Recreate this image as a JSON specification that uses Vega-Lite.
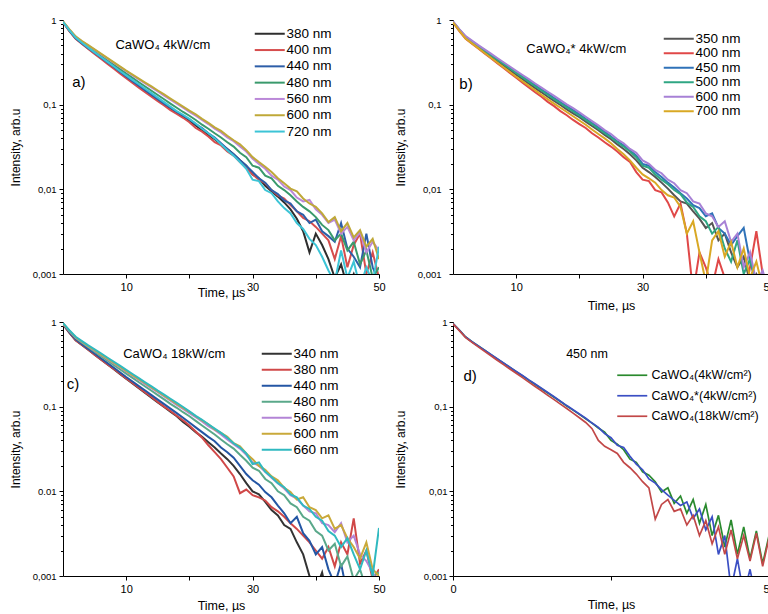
{
"$schema":"https://vega.github.io/schema/vega-lite/v6.json",
"background":"white",
"padding":{"left":9,"top":15,"right":0,"bottom":0},
"columns":2,
"spacing":{"row":48,"column":74},
"bounds":"flush",
"resolve":{"scale":{"color":"independent","strokeWidth":"independent"},"legend":{"color":"independent"}},
"config":{"font":"Liberation Sans","view":{"stroke":null},"axis":{"grid":false,"domainColor":"#000","tickColor":"#000","labelColor":"#000","titleColor":"#000","titleFontWeight":"normal","labelOverlap":false}},
"datasets":{
"A":[
{"t":0,"380":0.95,"400":0.94,"440":0.95,"480":0.95,"560":0.95,"600":0.96,"720":0.95},
{"t":1,"380":0.75,"400":0.74,"440":0.75,"480":0.76,"560":0.77,"600":0.78,"720":0.76},
{"t":2,"380":0.61,"400":0.60,"440":0.61,"480":0.62,"560":0.635,"600":0.64,"720":0.62},
{"t":3,"380":0.53,"400":0.52,"440":0.53,"480":0.545,"560":0.56,"600":0.565,"720":0.54},
{"t":4,"380":0.462,"400":0.455,"440":0.465,"480":0.482,"560":0.50,"600":0.505,"720":0.472},
{"t":5,"380":0.405,"400":0.398,"440":0.41,"480":0.427,"560":0.445,"600":0.45,"720":0.415},
{"t":6,"380":0.356,"400":0.348,"440":0.36,"480":0.378,"560":0.395,"600":0.40,"720":0.365},
{"t":7,"380":0.313,"400":0.305,"440":0.318,"480":0.335,"560":0.352,"600":0.357,"720":0.322},
{"t":8,"380":0.275,"400":0.267,"440":0.28,"480":0.297,"560":0.313,"600":0.318,"720":0.284},
{"t":9,"380":0.242,"400":0.234,"440":0.245,"480":0.263,"560":0.279,"600":0.283,"720":0.25},
{"t":10,"380":0.212,"400":0.205,"440":0.215,"480":0.233,"560":0.248,"600":0.252,"720":0.222},
{"t":11,"380":0.188,"400":0.181,"440":0.19,"480":0.207,"560":0.222,"600":0.226,"720":0.196},
{"t":12,"380":0.166,"400":0.159,"440":0.168,"480":0.184,"560":0.199,"600":0.203,"720":0.174},
{"t":13,"380":0.147,"400":0.140,"440":0.148,"480":0.164,"560":0.178,"600":0.182,"720":0.154},
{"t":14,"380":0.130,"400":0.124,"440":0.131,"480":0.146,"560":0.160,"600":0.164,"720":0.137},
{"t":15,"380":0.115,"400":0.110,"440":0.116,"480":0.130,"560":0.143,"600":0.147,"720":0.121},
{"t":16,"380":0.102,"400":0.098,"440":0.103,"480":0.116,"560":0.128,"600":0.132,"720":0.107},
{"t":17,"380":0.091,"400":0.086,"440":0.092,"480":0.103,"560":0.115,"600":0.118,"720":0.095},
{"t":18,"380":0.081,"400":0.078,"440":0.082,"480":0.092,"560":0.103,"600":0.106,"720":0.084},
{"t":19,"380":0.073,"400":0.070,"440":0.074,"480":0.082,"560":0.092,"600":0.095,"720":0.076},
{"t":20,"380":0.065,"400":0.062,"440":0.067,"480":0.074,"560":0.082,"600":0.085,"720":0.068},
{"t":21,"380":0.057,"400":0.053,"440":0.059,"480":0.066,"560":0.074,"600":0.077,"720":0.060},
{"t":22,"380":0.050,"400":0.048,"440":0.053,"480":0.058,"560":0.066,"600":0.068,"720":0.052},
{"t":23,"380":0.044,"400":0.042,"440":0.046,"480":0.052,"560":0.059,"600":0.061,"720":0.046},
{"t":24,"380":0.039,"400":0.036,"440":0.041,"480":0.046,"560":0.052,"600":0.054,"720":0.040},
{"t":25,"380":0.034,"400":0.033,"440":0.035,"480":0.041,"560":0.047,"600":0.049,"720":0.034},
{"t":26,"380":0.030,"400":0.028,"440":0.030,"480":0.036,"560":0.041,"600":0.043,"720":0.029},
{"t":27,"380":0.026,"400":0.025,"440":0.026,"480":0.032,"560":0.037,"600":0.038,"720":0.025},
{"t":28,"380":0.022,"400":0.021,"440":0.022,"480":0.027,"560":0.032,"600":0.034,"720":0.021},
{"t":29,"380":0.019,"400":0.018,"440":0.019,"480":0.024,"560":0.028,"600":0.029,"720":0.0175},
{"t":30,"380":0.015,"400":0.015,"440":0.016,"480":0.019,"560":0.023,"600":0.024,"720":0.013},
{"t":31,"380":0.0135,"400":0.013,"440":0.0135,"480":0.018,"560":0.020,"600":0.021,"720":0.0125},
{"t":32,"380":0.011,"400":0.0118,"440":0.012,"480":0.0145,"560":0.0175,"600":0.0185,"720":0.0098},
{"t":33,"380":0.0095,"400":0.0098,"440":0.0098,"480":0.0135,"560":0.0145,"600":0.016,"720":0.009},
{"t":34,"380":0.0082,"400":0.0085,"440":0.0088,"480":0.011,"560":0.013,"600":0.0135,"720":0.0072},
{"t":35,"380":0.007,"400":0.0078,"440":0.0074,"480":0.0098,"560":0.0108,"600":0.0118,"720":0.006},
{"t":36,"380":0.0058,"400":0.0065,"440":0.0068,"480":0.0085,"560":0.0098,"600":0.0102,"720":0.0052},
{"t":37,"380":0.0045,"400":0.0055,"440":0.0055,"480":0.0072,"560":0.008,"600":0.0095,"720":0.004},
{"t":38,"380":0.0032,"400":0.0046,"440":0.005,"480":0.0062,"560":0.0072,"600":0.0078,"720":0.0034},
{"t":39,"380":0.0018,"400":0.0042,"440":0.004,"480":0.0055,"560":0.0075,"600":0.0068,"720":0.0026},
{"t":40,"380":0.003,"400":0.0036,"440":0.0044,"480":0.0047,"560":0.0058,"600":0.0062,"720":0.0022},
{"t":41,"380":0.0022,"400":0.003,"440":0.0032,"480":0.0038,"560":0.005,"600":0.0052,"720":0.0016},
{"t":42,"380":0.0015,"400":0.0025,"440":0.0028,"480":0.0033,"560":0.004,"600":0.0041,"720":0.0011},
{"t":43,"380":0.0009,"400":0.0015,"440":0.0024,"480":0.0025,"560":0.0044,"600":0.0047,"720":0.0008},
{"t":44,"380":0.0013,"400":0.0028,"440":0.004,"480":0.003,"560":0.003,"600":0.0032,"720":0.0019},
{"t":45,"380":0.0007,"400":0.0012,"440":0.002,"480":0.0019,"560":0.0036,"600":0.004,"720":0.0009},
{"t":46,"380":0.001,"400":0.0022,"440":0.0016,"480":0.0024,"560":0.0025,"600":0.0027,"720":0.0014},
{"t":47,"380":0.0006,"400":0.003,"440":0.0012,"480":0.0013,"560":0.0031,"600":0.0033,"720":0.0007},
{"t":48,"380":0.0008,"400":0.001,"440":0.003,"480":0.0019,"560":0.0018,"600":0.0021,"720":0.0012},
{"t":49,"380":0.0005,"400":0.0018,"440":0.0012,"480":0.0009,"560":0.0024,"600":0.0026,"720":0.0008},
{"t":50,"380":0.0006,"400":0.0009,"440":0.0008,"480":0.0012,"560":0.0019,"600":0.0015,"720":0.0021}
],
"B":[
{"t":0,"350":0.95,"400":0.94,"450":0.95,"500":0.95,"600":0.96,"700":0.94},
{"t":1,"350":0.76,"400":0.74,"450":0.77,"500":0.77,"600":0.78,"700":0.75},
{"t":2,"350":0.62,"400":0.60,"450":0.635,"500":0.63,"600":0.645,"700":0.605},
{"t":3,"350":0.545,"400":0.525,"450":0.56,"500":0.555,"600":0.57,"700":0.53},
{"t":4,"350":0.48,"400":0.46,"450":0.495,"500":0.49,"600":0.505,"700":0.465},
{"t":5,"350":0.423,"400":0.403,"450":0.44,"500":0.435,"600":0.45,"700":0.408},
{"t":6,"350":0.373,"400":0.353,"450":0.39,"500":0.385,"600":0.40,"700":0.358},
{"t":7,"350":0.329,"400":0.309,"450":0.346,"500":0.341,"600":0.356,"700":0.315},
{"t":8,"350":0.29,"400":0.271,"450":0.307,"500":0.302,"600":0.317,"700":0.277},
{"t":9,"350":0.256,"400":0.237,"450":0.272,"500":0.267,"600":0.282,"700":0.243},
{"t":10,"350":0.226,"400":0.208,"450":0.242,"500":0.237,"600":0.251,"700":0.214},
{"t":11,"350":0.2,"400":0.182,"450":0.215,"500":0.21,"600":0.224,"700":0.189},
{"t":12,"350":0.177,"400":0.16,"450":0.191,"500":0.186,"600":0.2,"700":0.167},
{"t":13,"350":0.157,"400":0.14,"450":0.17,"500":0.165,"600":0.178,"700":0.148},
{"t":14,"350":0.14,"400":0.124,"450":0.151,"500":0.147,"600":0.159,"700":0.131},
{"t":15,"350":0.124,"400":0.108,"450":0.135,"500":0.131,"600":0.142,"700":0.116},
{"t":16,"350":0.111,"400":0.096,"450":0.12,"500":0.116,"600":0.127,"700":0.103},
{"t":17,"350":0.099,"400":0.084,"450":0.107,"500":0.104,"600":0.113,"700":0.092},
{"t":18,"350":0.088,"400":0.075,"450":0.096,"500":0.093,"600":0.101,"700":0.082},
{"t":19,"350":0.079,"400":0.066,"450":0.086,"500":0.083,"600":0.091,"700":0.073},
{"t":20,"350":0.071,"400":0.059,"450":0.077,"500":0.074,"600":0.081,"700":0.065},
{"t":21,"350":0.063,"400":0.053,"450":0.068,"500":0.066,"600":0.072,"700":0.058},
{"t":22,"350":0.056,"400":0.046,"450":0.061,"500":0.059,"600":0.064,"700":0.051},
{"t":23,"350":0.05,"400":0.041,"450":0.054,"500":0.052,"600":0.057,"700":0.045},
{"t":24,"350":0.044,"400":0.036,"450":0.048,"500":0.046,"600":0.05,"700":0.04},
{"t":25,"350":0.039,"400":0.032,"450":0.042,"500":0.041,"600":0.045,"700":0.035},
{"t":26,"350":0.034,"400":0.028,"450":0.037,"500":0.036,"600":0.039,"700":0.03},
{"t":27,"350":0.03,"400":0.024,"450":0.033,"500":0.032,"600":0.035,"700":0.026},
{"t":28,"350":0.026,"400":0.021,"450":0.029,"500":0.028,"600":0.03,"700":0.022},
{"t":29,"350":0.022,"400":0.016,"450":0.025,"500":0.024,"600":0.027,"700":0.018},
{"t":30,"350":0.018,"400":0.013,"450":0.02,"500":0.019,"600":0.022,"700":0.015},
{"t":31,"350":0.016,"400":0.0125,"450":0.019,"500":0.018,"600":0.02,"700":0.0135},
{"t":32,"350":0.014,"400":0.0098,"450":0.016,"500":0.015,"600":0.017,"700":0.012},
{"t":33,"350":0.012,"400":0.0092,"450":0.014,"500":0.013,"600":0.0155,"700":0.0098},
{"t":34,"350":0.0102,"400":0.007,"450":0.012,"500":0.0115,"600":0.013,"700":0.0085},
{"t":35,"350":0.0085,"400":0.0048,"450":0.0105,"500":0.0098,"600":0.0118,"700":0.008},
{"t":36,"350":0.0072,"400":0.0068,"450":0.009,"500":0.0088,"600":0.0098,"700":0.0062},
{"t":37,"350":0.0068,"400":0.003,"450":0.0078,"500":0.007,"600":0.009,"700":0.003},
{"t":38,"350":0.0055,"400":0.0006,"450":0.0065,"500":0.0062,"600":0.0072,"700":0.0042},
{"t":39,"350":0.0045,"400":0.0018,"450":0.006,"500":0.0048,"600":0.0068,"700":0.0018},
{"t":40,"350":0.0035,"400":0.0012,"450":0.0048,"500":0.0042,"600":0.0052,"700":0.0008},
{"t":41,"350":0.004,"400":0.0007,"450":0.0052,"500":0.003,"600":0.0048,"700":0.0025},
{"t":42,"350":0.0025,"400":0.0015,"450":0.0035,"500":0.0036,"600":0.0036,"700":0.0032},
{"t":43,"350":0.003,"400":0.0009,"450":0.003,"500":0.002,"600":0.0042,"700":0.0016},
{"t":44,"350":0.0018,"400":0.0006,"450":0.0022,"500":0.0014,"600":0.0024,"700":0.0024},
{"t":45,"350":0.0012,"400":0.0008,"450":0.0028,"500":0.0025,"600":0.003,"700":0.0012},
{"t":46,"350":0.0016,"400":0.0005,"450":0.0035,"500":0.001,"600":0.0012,"700":0.002},
{"t":47,"350":0.0008,"400":0.0012,"450":0.0014,"500":0.0015,"600":0.0018,"700":0.0009},
{"t":48,"350":0.001,"400":0.0032,"450":0.0008,"500":0.0007,"600":0.0008,"700":0.0014},
{"t":49,"350":0.0006,"400":0.001,"450":0.001,"500":0.0009,"600":0.0011,"700":0.0007},
{"t":50,"350":0.0005,"400":0.0004,"450":0.0005,"500":0.0005,"600":0.0006,"700":0.001}
],
"C":[
{"t":0,"340":0.94,"380":0.94,"440":0.95,"480":0.96,"560":0.96,"600":0.96,"660":0.97},
{"t":1,"340":0.75,"380":0.75,"440":0.76,"480":0.78,"560":0.785,"600":0.79,"660":0.80},
{"t":2,"340":0.61,"380":0.61,"440":0.625,"480":0.645,"560":0.655,"600":0.66,"660":0.67},
{"t":3,"340":0.535,"380":0.535,"440":0.548,"480":0.568,"560":0.58,"600":0.585,"660":0.595},
{"t":4,"340":0.47,"380":0.47,"440":0.482,"480":0.503,"560":0.515,"600":0.52,"660":0.53},
{"t":5,"340":0.412,"380":0.412,"440":0.424,"480":0.446,"560":0.46,"600":0.465,"660":0.475},
{"t":6,"340":0.361,"380":0.362,"440":0.373,"480":0.396,"560":0.41,"600":0.415,"660":0.425},
{"t":7,"340":0.317,"380":0.318,"440":0.329,"480":0.352,"560":0.366,"600":0.371,"660":0.381},
{"t":8,"340":0.278,"380":0.28,"440":0.29,"480":0.312,"560":0.327,"600":0.332,"660":0.341},
{"t":9,"340":0.244,"380":0.246,"440":0.255,"480":0.277,"560":0.292,"600":0.296,"660":0.305},
{"t":10,"340":0.214,"380":0.216,"440":0.224,"480":0.246,"560":0.26,"600":0.264,"660":0.272},
{"t":11,"340":0.188,"380":0.19,"440":0.198,"480":0.219,"560":0.232,"600":0.236,"660":0.243},
{"t":12,"340":0.165,"380":0.167,"440":0.175,"480":0.194,"560":0.207,"600":0.211,"660":0.217},
{"t":13,"340":0.145,"380":0.147,"440":0.155,"480":0.173,"560":0.185,"600":0.189,"660":0.194},
{"t":14,"340":0.128,"380":0.13,"440":0.137,"480":0.154,"560":0.165,"600":0.169,"660":0.174},
{"t":15,"340":0.112,"380":0.114,"440":0.121,"480":0.137,"560":0.148,"600":0.151,"660":0.155},
{"t":16,"340":0.099,"380":0.1,"440":0.107,"480":0.122,"560":0.132,"600":0.135,"660":0.139},
{"t":17,"340":0.087,"380":0.089,"440":0.095,"480":0.108,"560":0.118,"600":0.121,"660":0.124},
{"t":18,"340":0.077,"380":0.078,"440":0.084,"480":0.097,"560":0.105,"600":0.108,"660":0.111},
{"t":19,"340":0.066,"380":0.069,"440":0.074,"480":0.086,"560":0.094,"600":0.097,"660":0.099},
{"t":20,"340":0.058,"380":0.06,"440":0.065,"480":0.077,"560":0.084,"600":0.087,"660":0.088},
{"t":21,"340":0.05,"380":0.051,"440":0.057,"480":0.068,"560":0.075,"600":0.077,"660":0.078},
{"t":22,"340":0.044,"380":0.043,"440":0.05,"480":0.06,"560":0.067,"600":0.069,"660":0.07},
{"t":23,"340":0.038,"380":0.035,"440":0.044,"480":0.053,"560":0.059,"600":0.062,"660":0.062},
{"t":24,"340":0.033,"380":0.029,"440":0.039,"480":0.047,"560":0.053,"600":0.054,"660":0.055},
{"t":25,"340":0.028,"380":0.024,"440":0.033,"480":0.041,"560":0.047,"600":0.049,"660":0.049},
{"t":26,"340":0.024,"380":0.019,"440":0.029,"480":0.036,"560":0.041,"600":0.044,"660":0.043},
{"t":27,"340":0.02,"380":0.015,"440":0.025,"480":0.032,"560":0.036,"600":0.037,"660":0.037},
{"t":28,"340":0.016,"380":0.0095,"440":0.02,"480":0.027,"560":0.032,"600":0.034,"660":0.033},
{"t":29,"340":0.0125,"380":0.0105,"440":0.016,"480":0.023,"560":0.027,"600":0.028,"660":0.028},
{"t":30,"340":0.01,"380":0.009,"440":0.0135,"480":0.019,"560":0.022,"600":0.024,"660":0.021},
{"t":31,"340":0.0092,"380":0.0085,"440":0.012,"480":0.0175,"560":0.02,"600":0.02,"660":0.022},
{"t":32,"340":0.0075,"380":0.0078,"440":0.0098,"480":0.014,"560":0.017,"600":0.018,"660":0.017},
{"t":33,"340":0.006,"380":0.0065,"440":0.0085,"480":0.0125,"560":0.0145,"600":0.015,"660":0.0148},
{"t":34,"340":0.0052,"380":0.0058,"440":0.0068,"480":0.01,"560":0.0125,"600":0.0135,"660":0.0125},
{"t":35,"340":0.004,"380":0.005,"440":0.0055,"480":0.009,"560":0.0108,"600":0.011,"660":0.0112},
{"t":36,"340":0.0036,"380":0.0042,"440":0.0042,"480":0.0072,"560":0.009,"600":0.0098,"660":0.0092},
{"t":37,"340":0.0025,"380":0.0036,"440":0.005,"480":0.0065,"560":0.0082,"600":0.008,"660":0.0085},
{"t":38,"340":0.0018,"380":0.003,"440":0.0032,"480":0.005,"560":0.0068,"600":0.0085,"660":0.0068},
{"t":39,"340":0.001,"380":0.0025,"440":0.0026,"480":0.0045,"560":0.0058,"600":0.0065,"660":0.0062},
{"t":40,"340":0.0007,"380":0.002,"440":0.0018,"480":0.0034,"560":0.0055,"600":0.006,"660":0.005},
{"t":41,"340":0.0011,"380":0.0016,"440":0.0022,"480":0.003,"560":0.0042,"600":0.0048,"660":0.0045},
{"t":42,"340":0.0005,"380":0.0022,"440":0.0012,"480":0.002,"560":0.004,"600":0.0052,"660":0.0034},
{"t":43,"340":0.0007,"380":0.0013,"440":0.0008,"480":0.0024,"560":0.0033,"600":0.0036,"660":0.003},
{"t":44,"340":0.0004,"380":0.0025,"440":0.0014,"480":0.0013,"560":0.0042,"600":0.004,"660":0.0022},
{"t":45,"340":0.0005,"380":0.0018,"440":0.0006,"480":0.0017,"560":0.0025,"600":0.0028,"660":0.0028},
{"t":46,"340":0.0004,"380":0.0048,"440":0.0009,"480":0.0009,"560":0.003,"600":0.0022,"660":0.0018},
{"t":47,"340":0.0005,"380":0.0014,"440":0.0005,"480":0.0012,"560":0.0018,"600":0.0016,"660":0.0012},
{"t":48,"340":0.0004,"380":0.002,"440":0.0007,"480":0.0007,"560":0.0015,"600":0.0025,"660":0.002},
{"t":49,"340":0.0004,"380":0.0009,"440":0.0004,"480":0.001,"560":0.0011,"600":0.0012,"660":0.001},
{"t":50,"340":0.0004,"380":0.0012,"440":0.0005,"480":0.0011,"560":0.0008,"600":0.001,"660":0.0037}
],
"D":[
{"t":0,"g":0.96,"b":0.96,"r":0.95},
{"t":1,"g":0.80,"b":0.80,"r":0.79},
{"t":2,"g":0.665,"b":0.665,"r":0.655},
{"t":3,"g":0.585,"b":0.585,"r":0.575},
{"t":4,"g":0.52,"b":0.52,"r":0.508},
{"t":5,"g":0.463,"b":0.465,"r":0.45},
{"t":6,"g":0.412,"b":0.414,"r":0.399},
{"t":7,"g":0.367,"b":0.369,"r":0.354},
{"t":8,"g":0.327,"b":0.329,"r":0.314},
{"t":9,"g":0.291,"b":0.293,"r":0.279},
{"t":10,"g":0.259,"b":0.261,"r":0.248},
{"t":11,"g":0.231,"b":0.233,"r":0.22},
{"t":12,"g":0.205,"b":0.207,"r":0.195},
{"t":13,"g":0.183,"b":0.185,"r":0.173},
{"t":14,"g":0.163,"b":0.165,"r":0.154},
{"t":15,"g":0.145,"b":0.147,"r":0.136},
{"t":16,"g":0.129,"b":0.131,"r":0.121},
{"t":17,"g":0.115,"b":0.116,"r":0.107},
{"t":18,"g":0.102,"b":0.103,"r":0.095},
{"t":19,"g":0.091,"b":0.092,"r":0.084},
{"t":20,"g":0.081,"b":0.082,"r":0.074},
{"t":21,"g":0.072,"b":0.073,"r":0.065},
{"t":22,"g":0.064,"b":0.064,"r":0.055},
{"t":23,"g":0.056,"b":0.057,"r":0.04},
{"t":24,"g":0.05,"b":0.048,"r":0.034},
{"t":25,"g":0.04,"b":0.043,"r":0.031},
{"t":26,"g":0.036,"b":0.035,"r":0.028},
{"t":27,"g":0.031,"b":0.033,"r":0.022},
{"t":28,"g":0.024,"b":0.026,"r":0.019},
{"t":29,"g":0.022,"b":0.021,"r":0.016},
{"t":30,"g":0.017,"b":0.018,"r":0.013},
{"t":31,"g":0.0155,"b":0.014,"r":0.011},
{"t":32,"g":0.013,"b":0.0125,"r":0.0047},
{"t":33,"g":0.0098,"b":0.0105,"r":0.007},
{"t":34,"g":0.011,"b":0.009,"r":0.008},
{"t":35,"g":0.0072,"b":0.0078,"r":0.0058},
{"t":36,"g":0.0088,"b":0.0068,"r":0.0062},
{"t":37,"g":0.0055,"b":0.0075,"r":0.004},
{"t":38,"g":0.008,"b":0.0048,"r":0.0052},
{"t":39,"g":0.0042,"b":0.0062,"r":0.003},
{"t":40,"g":0.007,"b":0.0035,"r":0.0045},
{"t":41,"g":0.003,"b":0.005,"r":0.0024},
{"t":42,"g":0.0052,"b":0.0018,"r":0.0038},
{"t":43,"g":0.0022,"b":0.003,"r":0.0018},
{"t":44,"g":0.0046,"b":0.0007,"r":0.0035},
{"t":45,"g":0.0018,"b":0.0016,"r":0.0016},
{"t":46,"g":0.0038,"b":0.0006,"r":0.003},
{"t":47,"g":0.0016,"b":0.0012,"r":0.0015},
{"t":48,"g":0.0034,"b":0.0005,"r":0.0032},
{"t":49,"g":0.0014,"b":0.0008,"r":0.0013},
{"t":50,"g":0.003,"b":0.0004,"r":0.0028}
]
},
"concat":[
{
"width":316,"height":254,
"layer":[
{"data":{"name":"A"},
"transform":[{"fold":["380","400","440","480","560","600","720"],"as":["s","v"]}],
"mark":{"type":"line","clip":true,"strokeWidth":2},
"encoding":{
"x":{"field":"t","type":"quantitative","scale":{"domain":[0,50],"nice":false},
"axis":{"title":"Time, µs","values":[10,20,30,40,50],"labelExpr":"datum.value == 20 || datum.value == 40 ? '' : datum.label","tickSize":4,"labelFontSize":11,"titleFontSize":12.5,"titlePadding":-6,"labelPadding":3,"labelFlush":false}},
"y":{"field":"v","type":"quantitative","scale":{"type":"log","domain":[0.001,1]},
"axis":{"title":"Intensity, arb.u","values":[0.001,0.002,0.003,0.004,0.005,0.006,0.007,0.008,0.009,0.01,0.02,0.03,0.04,0.05,0.06,0.07,0.08,0.09,0.1,0.2,0.3,0.4,0.5,0.6,0.7,0.8,0.9,1],
"labelExpr":"abs(log(datum.value)/LN10 - round(log(datum.value)/LN10)) < 0.01 ? replace(format(datum.value, '~g'), '.', ',') : ''",
"tickSize":{"condition":{"test":"abs(log(datum.value)/LN10 - round(log(datum.value)/LN10)) < 0.01","value":4},"value":2.5},
"labelFontSize":9.5,"titleFontSize":12,"labelPadding":3,"titlePadding":10}},
"color":{"field":"s","type":"nominal","scale":{"domain":["380","400","440","480","560","600","720"],"range":["#2e2e2e","#d64d4d","#2d5ea8","#3a9a6c","#bb88d8","#bfa838","#3cc4d6"]},
"legend":{"orient":"none","legendX":208,"legendY":7,"title":null,"labelExpr":"datum.label + ' nm'","symbolType":"M-4.6,0H1.4","symbolSize":100,"symbolStrokeWidth":2,"labelFontSize":13.5,"labelColor":"#000","rowPadding":1.3,"labelOffset":2,"padding":0}}
}},
{"data":{"values":[{}]},"mark":{"type":"text","fontSize":13,"color":"#000"},"encoding":{"x":{"datum":15.8},"y":{"datum":0.5},"text":{"value":"CaWO₄  4kW/cm"}}},
{"data":{"values":[{}]},"mark":{"type":"text","fontSize":15,"color":"#000"},"encoding":{"x":{"datum":2.5},"y":{"datum":0.185},"text":{"value":"a)"}}}
]},
{
"width":316,"height":254,
"layer":[
{"data":{"name":"B"},
"transform":[{"fold":["350","400","450","500","600","700"],"as":["s","v"]}],
"mark":{"type":"line","clip":true,"strokeWidth":2},
"encoding":{
"x":{"field":"t","type":"quantitative","scale":{"domain":[0,50],"nice":false},
"axis":{"title":"Time, µs","values":[10,20,30,40,50],"labelExpr":"datum.value == 20 || datum.value == 40 ? '' : datum.label","tickSize":4,"labelFontSize":11,"titleFontSize":12.5,"titlePadding":7,"labelPadding":3,"labelFlush":false}},
"y":{"field":"v","type":"quantitative","scale":{"type":"log","domain":[0.001,1]},
"axis":{"title":"Intensity, arb.u","values":[0.001,0.002,0.003,0.004,0.005,0.006,0.007,0.008,0.009,0.01,0.02,0.03,0.04,0.05,0.06,0.07,0.08,0.09,0.1,0.2,0.3,0.4,0.5,0.6,0.7,0.8,0.9,1],
"labelExpr":"abs(log(datum.value)/LN10 - round(log(datum.value)/LN10)) < 0.01 ? replace(format(datum.value, '~g'), '.', ',') : ''",
"tickSize":{"condition":{"test":"abs(log(datum.value)/LN10 - round(log(datum.value)/LN10)) < 0.01","value":4},"value":2.5},
"labelFontSize":9.5,"titleFontSize":12,"labelPadding":8,"titlePadding":10}},
"color":{"field":"s","type":"nominal","scale":{"domain":["350","400","450","500","600","700"],"range":["#555555","#e04848","#2f72b8","#2fa683","#a781d6","#d9a824"]},
"legend":{"orient":"none","legendX":227,"legendY":12,"title":null,"labelExpr":"datum.label + ' nm'","symbolType":"M-4.6,0H1.4","symbolSize":100,"symbolStrokeWidth":2,"labelFontSize":13.5,"labelColor":"#000","rowPadding":-0.5,"labelOffset":2,"padding":0}}
}},
{"data":{"values":[{}]},"mark":{"type":"text","fontSize":13,"color":"#000"},"encoding":{"x":{"datum":19.5},"y":{"datum":0.454},"text":{"value":"CaWO₄*  4kW/cm"}}},
{"data":{"values":[{}]},"mark":{"type":"text","fontSize":15,"color":"#000"},"encoding":{"x":{"datum":2.05},"y":{"datum":0.175},"text":{"value":"b)"}}}
]},
{
"width":316,"height":254,
"layer":[
{"data":{"name":"C"},
"transform":[{"fold":["340","380","440","480","560","600","660"],"as":["s","v"]}],
"mark":{"type":"line","clip":true,"strokeWidth":2},
"encoding":{
"x":{"field":"t","type":"quantitative","scale":{"domain":[0,50],"nice":false},
"axis":{"title":"Time, µs","values":[10,20,30,40,50],"labelExpr":"datum.value == 20 || datum.value == 40 ? '' : datum.label","tickSize":4,"labelFontSize":11,"titleFontSize":12.5,"titlePadding":5,"labelPadding":3,"labelFlush":false}},
"y":{"field":"v","type":"quantitative","scale":{"type":"log","domain":[0.001,1]},
"axis":{"title":"Intensity, arb.u","values":[0.001,0.002,0.003,0.004,0.005,0.006,0.007,0.008,0.009,0.01,0.02,0.03,0.04,0.05,0.06,0.07,0.08,0.09,0.1,0.2,0.3,0.4,0.5,0.6,0.7,0.8,0.9,1],
"labelExpr":"abs(log(datum.value)/LN10 - round(log(datum.value)/LN10)) < 0.01 ? (abs(datum.value - 0.01) < 0.000001 ? '0.01' : replace(format(datum.value, '~g'), '.', ',')) : ''",
"tickSize":{"condition":{"test":"abs(log(datum.value)/LN10 - round(log(datum.value)/LN10)) < 0.01","value":4},"value":2.5},
"labelFontSize":9.5,"titleFontSize":12,"labelPadding":3,"titlePadding":10}},
"color":{"field":"s","type":"nominal","scale":{"domain":["340","380","440","480","560","600","660"],"range":["#333333","#d04848","#2456a4","#5aa88a","#b384d6","#c9a93a","#2fb9c0"]},
"legend":{"orient":"none","legendX":215,"legendY":25,"title":null,"labelExpr":"datum.label + ' nm'","symbolType":"M-4.6,0H1.4","symbolSize":100,"symbolStrokeWidth":2,"labelFontSize":13.5,"labelColor":"#000","rowPadding":1,"labelOffset":2,"padding":0}}
}},
{"data":{"values":[{}]},"mark":{"type":"text","fontSize":13,"color":"#000"},"encoding":{"x":{"datum":17.6},"y":{"datum":0.419},"text":{"value":"CaWO₄ 18kW/cm"}}},
{"data":{"values":[{}]},"mark":{"type":"text","fontSize":15,"color":"#000"},"encoding":{"x":{"datum":1.6},"y":{"datum":0.185},"text":{"value":"c)"}}}
]},
{
"width":316,"height":254,
"layer":[
{"data":{"name":"D"},
"transform":[{"fold":["g","b","r"],"as":["s","v"]}],
"mark":{"type":"line","clip":true},
"encoding":{
"x":{"field":"t","type":"quantitative","scale":{"domain":[0,50],"nice":false},
"axis":{"title":"Time, µs","values":[0,25,50],"labelExpr":"datum.value == 25 ? '' : datum.label","tickSize":4,"labelFontSize":11,"titleFontSize":12.5,"titlePadding":4,"labelPadding":3,"labelFlush":false}},
"y":{"field":"v","type":"quantitative","scale":{"type":"log","domain":[0.001,1]},
"axis":{"title":"Intensity, arb.u","values":[0.001,0.002,0.003,0.004,0.005,0.006,0.007,0.008,0.009,0.01,0.02,0.03,0.04,0.05,0.06,0.07,0.08,0.09,0.1,0.2,0.3,0.4,0.5,0.6,0.7,0.8,0.9,1],
"labelExpr":"abs(log(datum.value)/LN10 - round(log(datum.value)/LN10)) < 0.01 ? replace(format(datum.value, '~g'), '.', ',') : ''",
"tickSize":{"condition":{"test":"abs(log(datum.value)/LN10 - round(log(datum.value)/LN10)) < 0.01","value":4},"value":2.5},
"labelFontSize":9.5,"titleFontSize":12,"labelPadding":2,"titlePadding":16}},
"color":{"field":"s","type":"nominal","scale":{"domain":["g","b","r"],"range":["#2a8a2e","#3b4fc4","#c24848"]},
"legend":{"orient":"none","legendX":181,"legendY":47,"title":null,"labelExpr":"datum.label == 'g' ? 'CaWO₄(4kW/cm²)' : datum.label == 'b' ? 'CaWO₄*(4kW/cm²)' : 'CaWO₄(18kW/cm²)'","symbolType":"M-4.6,0H1.4","symbolSize":100,"symbolStrokeWidth":2,"labelFontSize":12.5,"labelColor":"#000","rowPadding":7.5,"labelOffset":5,"padding":0}},
"strokeWidth":{"field":"s","type":"nominal","scale":{"domain":["g","b","r"],"range":[1.7,1.7,1.2]},"legend":null}
}},
{"data":{"values":[{}]},"mark":{"type":"text","fontSize":12.5,"color":"#000"},"encoding":{"x":{"datum":21.2},"y":{"datum":0.42},"text":{"value":"450 nm"}}},
{"data":{"values":[{}]},"mark":{"type":"text","fontSize":15,"color":"#000"},"encoding":{"x":{"datum":2.7},"y":{"datum":0.23},"text":{"value":"d)"}}}
]}
]
}
